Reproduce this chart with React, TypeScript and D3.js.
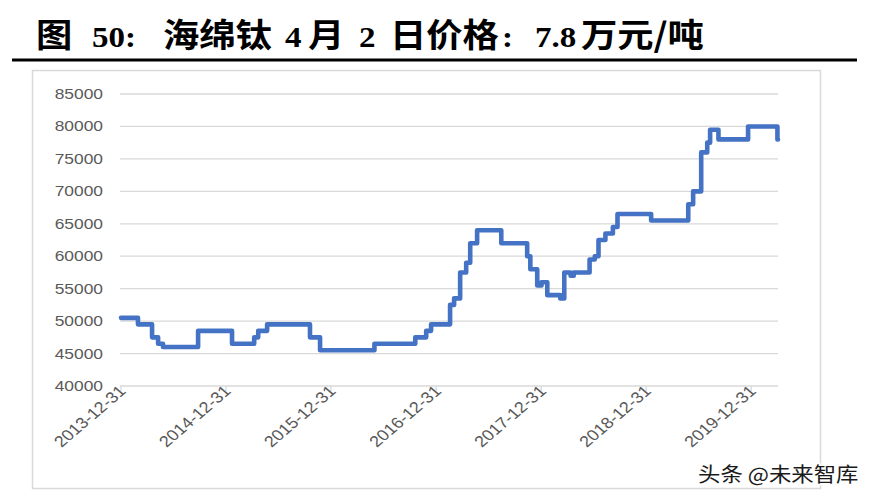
import React from "react";
import * as d3 from "d3";

// ---- data ----
const stepDates = [
  "2013-12-31", "2014-02-28", "2014-04-18", "2014-05-09", "2014-05-26", "2014-09-25",
  "2015-01-21", "2015-04-08", "2015-04-22", "2015-05-23", "2015-10-19", "2015-11-23",
  "2016-05-30", "2016-10-19", "2016-11-26", "2016-12-13", "2017-02-17", "2017-03-03",
  "2017-03-24", "2017-04-14", "2017-04-28", "2017-05-22", "2017-08-14", "2017-11-12",
  "2017-11-23", "2017-12-17", "2018-01-01", "2018-01-21", "2018-03-07", "2018-03-21",
  "2018-04-12", "2018-04-23", "2018-06-17", "2018-07-05", "2018-07-18", "2018-08-11",
  "2018-09-06", "2018-09-22", "2019-01-17", "2019-05-26", "2019-06-12", "2019-07-10",
  "2019-07-31", "2019-08-10", "2019-09-08", "2019-12-20", "2020-03-31", "2020-04-02",
];
const stepValues = [
  50500, 49500, 47500, 46500, 46000, 48500,
  46500, 47500, 48500, 49500, 47500, 45500,
  46500, 47500, 48500, 49500, 52500, 53500,
  57500, 59000, 62000, 64000, 62000, 60000,
  58000, 55500, 56000, 54000, 53500, 57500,
  57000, 57500, 59500, 60000, 62500, 63500,
  64500, 66500, 65500, 68000, 70000, 76000,
  77500, 79500, 78000, 80000, 78000, 78000,
];
const yTicks = [40000, 45000, 50000, 55000, 60000, 65000, 70000, 75000, 80000, 85000];
const xTickLabels = ["2013-12-31", "2014-12-31", "2015-12-31", "2016-12-31", "2017-12-31", "2018-12-31", "2019-12-31"];
const xDomain = ["2013-12-31", "2020-04-02"];

const titleParts: { t: string; x: number; latin?: boolean }[] = [
  { t: "图", x: 36 },
  { t: "50:", x: 92, latin: true },
  { t: "海绵钛", x: 163 },
  { t: "4", x: 285, latin: true },
  { t: "月", x: 308 },
  { t: "2", x: 359, latin: true },
  { t: "日价格", x: 390 },
  { t: ":", x: 502, latin: true },
  { t: "7.8", x: 535, latin: true },
  { t: "万元/吨", x: 581 },
];
const watermark = "头条 @未来智库";

const parse = d3.timeParse("%Y-%m-%d");

export default function App() {
  const W = 872, H = 500;
  const x = d3.scaleTime()
    .domain(xDomain.map((d) => parse(d) as Date))
    .range([121, 778]);
  const y = d3.scaleLinear().domain([40000, 85000]).range([386, 94]);

  const pts: [Date, number][] = stepDates.map((d, i) => [parse(d) as Date, stepValues[i]]);
  const line = d3.line<[Date, number]>()
    .x((d) => x(d[0]))
    .y((d) => y(d[1]))
    .curve(d3.curveStepAfter);

  const labelFont = "'Liberation Sans', Arial, sans-serif";
  const gray = "#595959";

  return (
    <div style={{ position: "absolute", left: 0, top: 0 }}>
      <svg width={W} height={H} style={{ display: "block", background: "#fff" }}>
        {/* title */}
        {titleParts.map((p, i) => (
          <text
            key={i}
            transform={`translate(${p.x},47) scale(1.1,1)`}
            fontSize={p.latin ? 30 : 33}
            fontWeight="bold"
            fontFamily={p.latin ? "'Liberation Serif', 'Times New Roman', serif" : "'Noto Sans CJK SC', sans-serif"}
            fill="#000"
          >
            {p.t}
          </text>
        ))}
        <line x1={12} x2={857} y1={60} y2={60} stroke="#000" strokeWidth={3} />

        {/* frame */}
        <rect x={32.5} y={70.5} width={788} height={418} fill="none" stroke="#d9d9d9" strokeWidth={1.5} />

        {/* gridlines and y labels */}
        {yTicks.map((t) => (
          <g key={t}>
            <line x1={120} x2={778} y1={y(t)} y2={y(t)} stroke="#d9d9d9" strokeWidth={1.3} />
            <text
              transform={`translate(103,${y(t) + 5}) scale(1.2,1)`}
              textAnchor="end"
              fontSize={14.5}
              fontFamily={labelFont}
              fill={gray}
            >
              {t}
            </text>
          </g>
        ))}

        {/* x ticks and labels */}
        {xTickLabels.map((d) => {
          const xx = x(parse(d) as Date);
          return (
            <g key={d}>
              <line x1={xx} x2={xx} y1={386} y2={391} stroke="#d9d9d9" strokeWidth={1.3} />
              <text
                transform={`translate(${xx + 6},392) scale(1.17,1) rotate(-45)`}
                textAnchor="end"
                fontSize={15.5}
                fontFamily={labelFont}
                fill={gray}
              >
                {d}
              </text>
            </g>
          );
        })}

        {/* series */}
        <path d={line(pts) || ""} fill="none" stroke="#4472C4" strokeWidth={4.6} strokeLinejoin="round" strokeLinecap="round" />

        {/* watermark */}
        <text
          transform="translate(698,482) scale(1.12,1)"
          fontSize={20}
          fontFamily="'Noto Sans CJK SC', sans-serif"
          fill="#1a1a1a"
          stroke="#fff"
          strokeWidth={3}
          paintOrder="stroke"
        >
          {watermark}
        </text>
      </svg>
    </div>
  );
}
